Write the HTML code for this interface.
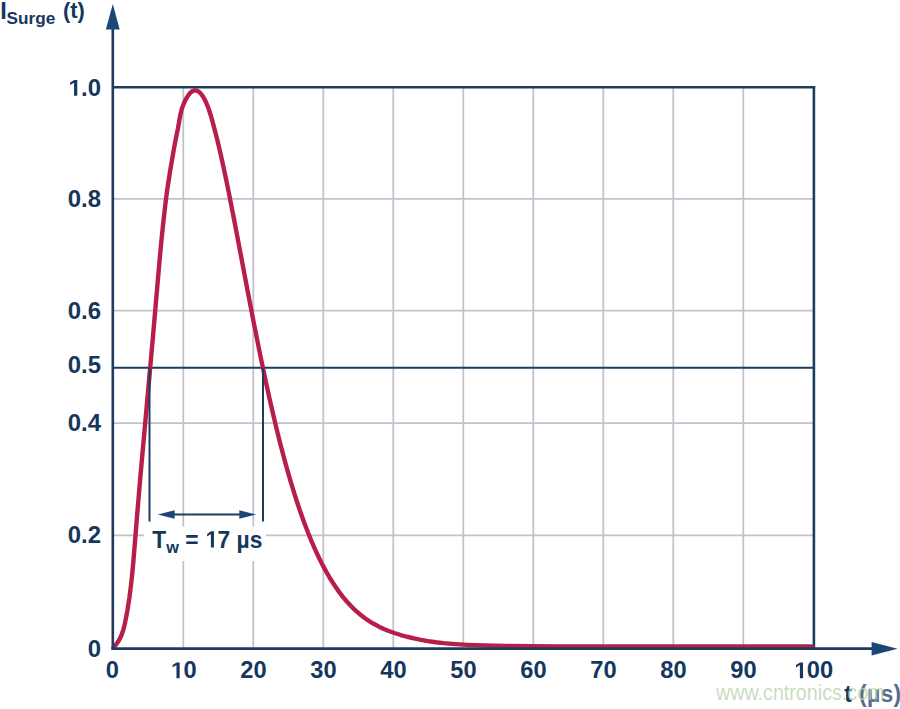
<!DOCTYPE html>
<html><head><meta charset="utf-8"><style>
html,body{margin:0;padding:0;background:#fff;}
svg{display:block;font-family:"Liberation Sans",sans-serif;}
</style></head><body>
<svg width="900" height="709" viewBox="0 0 900 709">
<line x1="183.3" y1="87" x2="183.3" y2="648" stroke="#c2c1cc" stroke-width="1.8"/>
<line x1="253.3" y1="87" x2="253.3" y2="648" stroke="#c2c1cc" stroke-width="1.8"/>
<line x1="323.3" y1="87" x2="323.3" y2="648" stroke="#c2c1cc" stroke-width="1.8"/>
<line x1="393.3" y1="87" x2="393.3" y2="648" stroke="#c2c1cc" stroke-width="1.8"/>
<line x1="463.3" y1="87" x2="463.3" y2="648" stroke="#c2c1cc" stroke-width="1.8"/>
<line x1="533.3" y1="87" x2="533.3" y2="648" stroke="#c2c1cc" stroke-width="1.8"/>
<line x1="603.3" y1="87" x2="603.3" y2="648" stroke="#c2c1cc" stroke-width="1.8"/>
<line x1="673.3" y1="87" x2="673.3" y2="648" stroke="#c2c1cc" stroke-width="1.8"/>
<line x1="743.3" y1="87" x2="743.3" y2="648" stroke="#c2c1cc" stroke-width="1.8"/>
<line x1="113" y1="535.4" x2="813" y2="535.4" stroke="#c2c1cc" stroke-width="1.8"/>
<line x1="113" y1="423.1" x2="813" y2="423.1" stroke="#c2c1cc" stroke-width="1.8"/>
<line x1="113" y1="310.7" x2="813" y2="310.7" stroke="#c2c1cc" stroke-width="1.8"/>
<line x1="113" y1="198.9" x2="813" y2="198.9" stroke="#c2c1cc" stroke-width="1.8"/>
<rect x="144" y="526.5" width="122" height="34.5" fill="#fff"/>
<line x1="113" y1="367.7" x2="813" y2="367.7" stroke="#1d3c5e" stroke-width="2"/>
<line x1="113" y1="87.3" x2="815.2" y2="87.3" stroke="#1d3c5e" stroke-width="2.6"/>
<line x1="813.9" y1="86.0" x2="813.9" y2="649" stroke="#1d3c5e" stroke-width="2.6"/>
<path d="M113.76,647.30 L115.51,645.30 L117.01,643.30 L118.31,641.30 L119.73,638.80 L120.72,636.80 L121.78,634.30 L122.68,631.80 L123.60,628.80 L124.48,625.30 L125.34,621.30 L126.51,615.30 L127.58,609.30 L129.44,597.30 L131.05,584.80 L132.19,574.30 L133.31,562.30 L137.37,512.30 L140.38,476.80 L152.51,341.80 L159.85,257.30 L161.66,238.30 L163.48,220.80 L165.31,204.80 L167.20,189.87 L170.30,169.93 L173.61,150.52 L175.70,139.37 L177.89,128.64 L180.06,116.45 L180.83,112.81 L181.67,109.51 L182.86,105.90 L184.61,101.81 L186.43,98.22 L188.25,95.31 L190.00,93.15 L190.84,92.33 L191.68,91.66 L192.52,91.13 L193.43,90.72 L194.34,90.48 L195.18,90.40 L196.58,90.59 L197.98,91.19 L199.38,92.18 L200.71,93.49 L202.11,95.26 L203.51,97.42 L204.91,99.99 L206.24,102.80 L207.43,105.61 L208.55,108.54 L210.65,114.98 L212.19,120.40 L214.78,130.07 L217.44,140.49 L220.03,151.40 L222.69,163.27 L225.56,176.73 L228.71,192.14 L234.80,223.25 L247.96,292.61 L254.05,324.13 L260.56,356.60 L266.58,385.14 L270.01,400.66 L273.44,415.60 L276.80,429.67 L280.16,443.16 L283.45,455.79 L286.81,468.10 L290.17,479.82 L293.53,490.96 L297.03,501.96 L300.60,512.55 L304.24,522.71 L307.88,532.26 L311.59,541.37 L315.30,549.89 L319.08,557.97 L322.93,565.63 L326.44,572.10 L330.64,579.29 L334.85,585.86 L339.05,591.87 L343.26,597.33 L347.46,602.28 L351.67,606.76 L353.77,608.84 L356.57,611.44 L360.78,615.01 L364.99,618.22 L369.19,621.09 L374.10,624.06 L379.00,626.67 L383.91,628.97 L388.82,630.98 L394.42,633.01 L400.73,635.01 L407.04,636.75 L414.05,638.43 L421.06,639.87 L428.07,641.09 L435.78,642.21 L443.49,643.11 L451.90,643.86 L459.61,644.39 L467.32,644.83 L484.84,645.51 L505.87,645.99 L532.50,646.29 L561.94,646.44 L602.59,646.51 L812.00,646.54" fill="none" stroke="#b71f4a" stroke-width="4.4" stroke-linejoin="round" stroke-linecap="round"/>
<line x1="112.8" y1="26" x2="112.8" y2="650" stroke="#1d3c5e" stroke-width="2.6"/>
<line x1="111.5" y1="648.6" x2="875" y2="648.6" stroke="#1d3c5e" stroke-width="2.6"/>
<polygon points="112.8,4 105.9,29.5 119.7,29.5" fill="#1b4676"/>
<polygon points="897.5,648.8000000000001 871.6,642.1 871.6,655.6" fill="#1b4676"/>
<line x1="149.5" y1="367.7" x2="149.5" y2="521.5" stroke="#1d3c5e" stroke-width="2"/>
<line x1="263.0" y1="367.7" x2="263.0" y2="521.5" stroke="#1d3c5e" stroke-width="2"/>
<line x1="165" y1="514.5" x2="250" y2="514.5" stroke="#1d3c5e" stroke-width="2"/>
<polygon points="157.8,514.5 174.7,510.3 174.7,518.7" fill="#1b4676"/>
<polygon points="256.2,514.5 239.3,510.3 239.3,518.7" fill="#1b4676"/>
<g transform="translate(152.30,547.60) scale(0.958,1)" fill="#15375e"><text x="0.00" y="0" font-size="23.8" font-weight="bold" xml:space="preserve">T</text><text x="14.54" y="5" font-size="17" font-weight="bold" xml:space="preserve">w</text><text x="27.76" y="0" font-size="23.8" font-weight="bold" xml:space="preserve"> = </text><path transform="translate(54.88,0) scale(0.011621,-0.011621)" d="M540 0V1170L205 959V1180L555 1409H815V0Z"/><text x="68.12" y="0" font-size="23.8" font-weight="bold" xml:space="preserve">7 µs</text></g>
<g transform="translate(101.00,95.80) scale(1.04,1)" fill="#15375e"><path transform="translate(-31.97,0) scale(0.011230,-0.011230)" d="M540 0V1170L205 959V1180L555 1409H815V0Z"/><text x="-19.18" y="0" font-size="23" font-weight="bold" xml:space="preserve">.0</text></g>
<g transform="translate(101.00,206.60) scale(1.04,1)" fill="#15375e"><text x="-31.97" y="0" font-size="23" font-weight="bold" xml:space="preserve">0.8</text></g>
<g transform="translate(101.00,318.70) scale(1.04,1)" fill="#15375e"><text x="-31.97" y="0" font-size="23" font-weight="bold" xml:space="preserve">0.6</text></g>
<g transform="translate(101.00,372.60) scale(1.04,1)" fill="#15375e"><text x="-31.97" y="0" font-size="23" font-weight="bold" xml:space="preserve">0.5</text></g>
<g transform="translate(101.00,430.50) scale(1.04,1)" fill="#15375e"><text x="-31.97" y="0" font-size="23" font-weight="bold" xml:space="preserve">0.4</text></g>
<g transform="translate(101.00,543.10) scale(1.04,1)" fill="#15375e"><text x="-31.97" y="0" font-size="23" font-weight="bold" xml:space="preserve">0.2</text></g>
<g transform="translate(101.00,656.70) scale(1.04,1)" fill="#15375e"><text x="-12.79" y="0" font-size="23" font-weight="bold" xml:space="preserve">0</text></g>
<g transform="translate(112.40,678.20) scale(1.03,1)" fill="#15375e"><text x="-6.40" y="0" font-size="23" font-weight="bold" xml:space="preserve">0</text></g>
<g transform="translate(183.40,678.20) scale(1.03,1)" fill="#15375e"><path transform="translate(-12.79,0) scale(0.011230,-0.011230)" d="M540 0V1170L205 959V1180L555 1409H815V0Z"/><text x="0.00" y="0" font-size="23" font-weight="bold" xml:space="preserve">0</text></g>
<g transform="translate(253.40,678.20) scale(1.03,1)" fill="#15375e"><text x="-12.79" y="0" font-size="23" font-weight="bold" xml:space="preserve">20</text></g>
<g transform="translate(323.40,678.20) scale(1.03,1)" fill="#15375e"><text x="-12.79" y="0" font-size="23" font-weight="bold" xml:space="preserve">30</text></g>
<g transform="translate(393.40,678.20) scale(1.03,1)" fill="#15375e"><text x="-12.79" y="0" font-size="23" font-weight="bold" xml:space="preserve">40</text></g>
<g transform="translate(463.40,678.20) scale(1.03,1)" fill="#15375e"><text x="-12.79" y="0" font-size="23" font-weight="bold" xml:space="preserve">50</text></g>
<g transform="translate(533.40,678.20) scale(1.03,1)" fill="#15375e"><text x="-12.79" y="0" font-size="23" font-weight="bold" xml:space="preserve">60</text></g>
<g transform="translate(603.40,678.20) scale(1.03,1)" fill="#15375e"><text x="-12.79" y="0" font-size="23" font-weight="bold" xml:space="preserve">70</text></g>
<g transform="translate(673.40,678.20) scale(1.03,1)" fill="#15375e"><text x="-12.79" y="0" font-size="23" font-weight="bold" xml:space="preserve">80</text></g>
<g transform="translate(743.40,678.20) scale(1.03,1)" fill="#15375e"><text x="-12.79" y="0" font-size="23" font-weight="bold" xml:space="preserve">90</text></g>
<g transform="translate(813.40,678.20) scale(1.03,1)" fill="#15375e"><path transform="translate(-19.19,0) scale(0.011230,-0.011230)" d="M540 0V1170L205 959V1180L555 1409H815V0Z"/><text x="-6.40" y="0" font-size="23" font-weight="bold" xml:space="preserve">00</text></g>
<text x="0.2" y="18.6" font-size="23.4" font-weight="bold" fill="#15375e">I</text>
<text x="6.5" y="24" font-size="17.2" font-weight="bold" fill="#15375e">Surge</text>
<text x="63" y="18.3" font-size="22.6" font-weight="bold" fill="#15375e" textLength="21.9" lengthAdjust="spacingAndGlyphs">(t)</text>
<text x="844.3" y="702" font-size="23" font-weight="bold" fill="#15375e" letter-spacing="0.3">t (µs)</text>
<rect x="856" y="682" width="44" height="27" fill="#fff" fill-opacity="0.28"/>
<text x="716" y="700.4" font-size="22" fill="#b4d2ac" fill-opacity="0.75" textLength="168.5" lengthAdjust="spacingAndGlyphs">www.cntronics.com</text>
</svg>
</body></html>
